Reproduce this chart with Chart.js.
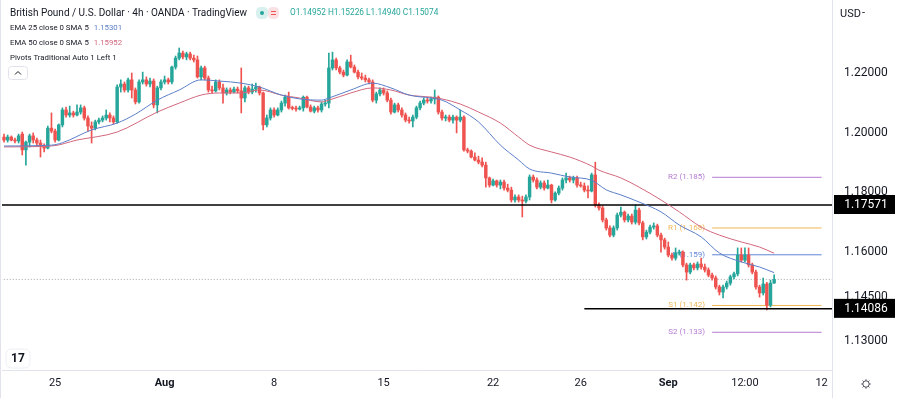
<!DOCTYPE html>
<html>
<head>
<meta charset="utf-8">
<style>
html, body { margin: 0; padding: 0; background: #ffffff; }
#contenedor { width: 900px; height: 398px; position: relative; }
</style>
</head>
<body>
<div id="contenedor"><canvas id="grafico-gbpusd" width="900" height="398"></canvas></div>
<script src="https://cdn.jsdelivr.net/npm/chart.js@4.4.1/dist/chart.umd.min.js"></script>
<script>
// velas de 4h, GBP/USD (OANDA), una por indice
const apertura = [
    1.1985,1.1975,1.1985,1.1975,1.1972,1.1995,1.1942,1.1968,1.1989,1.1975,
    1.1965,1.1955,1.1948,1.2015,1.2005,1.1975,1.2026,1.2076,1.2059,1.2066,
    1.2059,1.2069,1.2083,1.2049,1.2022,1.2015,1.2036,1.2042,1.2049,1.2059,
    1.2049,1.2036,1.2153,1.2163,1.2143,1.2177,1.2143,1.2103,1.2170,1.2177,
    1.2163,1.2173,1.2093,1.2150,1.2170,1.2177,1.2170,1.2220,1.2250,1.2267,
    1.2254,1.2264,1.2250,1.2244,1.2187,1.2217,1.2183,1.2143,1.2140,1.2170,
    1.2150,1.2133,1.2143,1.2136,1.2146,1.2140,1.2116,1.2150,1.2136,1.2146,
    1.2153,1.2133,1.2026,1.2049,1.2076,1.2059,1.2076,1.2099,1.2119,1.2083,
    1.2081,1.2079,1.2083,1.2119,1.2086,1.2072,1.2083,1.2076,1.2096,1.2099,
    1.2217,1.2244,1.2217,1.2203,1.2193,1.2237,1.2220,1.2203,1.2187,1.2183,
    1.2177,1.2170,1.2109,1.2130,1.2143,1.2133,1.2109,1.2069,1.2093,1.2076,
    1.2059,1.2042,1.2039,1.2052,1.2083,1.2099,1.2109,1.2106,1.2113,1.2119,
    1.2069,1.2049,1.2052,1.2042,1.2052,1.2042,1.2052,1.1942,1.1938,1.1918,
    1.1908,1.1901,1.1891,1.1848,1.1824,1.1838,1.1824,1.1834,1.1814,1.1807,
    1.1774,1.1784,1.1774,1.1770,1.1784,1.1851,1.1841,1.1817,1.1831,1.1814,
    1.1824,1.1774,1.1797,1.1814,1.1841,1.1848,1.1841,1.1848,1.1824,1.1821,
    1.1807,1.1804,1.1858,1.1757,1.1747,1.1707,1.1680,1.1656,1.1680,1.1723,
    1.1733,1.1707,1.1720,1.1700,1.1740,1.1697,1.1650,1.1666,1.1683,1.1687,
    1.1656,1.1640,1.1616,1.1589,1.1579,1.1596,1.1599,1.1556,1.1532,1.1556,
    1.1546,1.1559,1.1549,1.1539,1.1522,1.1512,1.1482,1.1465,1.1482,1.1495,
    1.1516,1.1526,1.1589,1.1572,1.1589,1.1556,1.1532,1.1482,1.1462,1.1492,
    1.1421,1.14952
];
const maximo = [
    1.1995,1.1992,1.1989,1.1982,1.1995,1.2002,1.1972,1.1995,1.1999,1.1982,
    1.1975,1.1962,1.2022,1.2066,1.2012,1.2029,1.2083,1.2086,1.2089,1.2072,
    1.2093,1.2093,1.2089,1.2056,1.2036,1.2042,1.2049,1.2056,1.2076,1.2066,
    1.2056,1.2160,1.2177,1.2170,1.2183,1.2200,1.2150,1.2177,1.2203,1.2187,
    1.2183,1.2180,1.2156,1.2177,1.2190,1.2183,1.2223,1.2257,1.2284,1.2274,
    1.2270,1.2270,1.2260,1.2257,1.2223,1.2223,1.2190,1.2156,1.2177,1.2177,
    1.2163,1.2150,1.2150,1.2153,1.2153,1.2217,1.2156,1.2156,1.2163,1.2166,
    1.2156,1.2136,1.2059,1.2083,1.2083,1.2083,1.2106,1.2126,1.2136,1.2089,
    1.2089,1.2089,1.2123,1.2123,1.2093,1.2089,1.2089,1.2103,1.2109,1.2267,
    1.2270,1.2250,1.2223,1.2210,1.2244,1.2260,1.2227,1.2210,1.2200,1.2193,
    1.2183,1.2177,1.2136,1.2150,1.2150,1.2140,1.2116,1.2099,1.2099,1.2083,
    1.2066,1.2052,1.2059,1.2089,1.2106,1.2116,1.2116,1.2119,1.2143,1.2123,
    1.2076,1.2059,1.2059,1.2059,1.2056,1.2076,1.2056,1.1948,1.1942,1.1932,
    1.1921,1.1915,1.1901,1.1851,1.1844,1.1841,1.1841,1.1841,1.1827,1.1817,
    1.1791,1.1791,1.1787,1.1791,1.1858,1.1858,1.1848,1.1838,1.1838,1.1841,
    1.1827,1.1801,1.1821,1.1848,1.1864,1.1854,1.1854,1.1854,1.1834,1.1831,
    1.1821,1.1864,1.1901,1.1764,1.1754,1.1713,1.1687,1.1687,1.1730,1.1750,
    1.1737,1.1727,1.1727,1.1757,1.1747,1.1703,1.1673,1.1690,1.1697,1.1693,
    1.1663,1.1646,1.1633,1.1596,1.1613,1.1606,1.1603,1.1562,1.1562,1.1562,
    1.1566,1.1579,1.1559,1.1546,1.1529,1.1519,1.1488,1.1488,1.1502,1.1522,
    1.1532,1.1613,1.1613,1.1613,1.1613,1.1562,1.1539,1.1488,1.1512,1.1498,
    1.1505,1.15226
];
const minimo = [
    1.1968,1.1968,1.1972,1.1965,1.1965,1.1925,1.1891,1.1952,1.1965,1.1955,
    1.1918,1.1935,1.1945,1.1999,1.1968,1.1972,1.2019,1.2052,1.2052,1.2052,
    1.2056,1.2062,1.2042,1.2005,1.1965,1.2009,1.2029,1.2036,1.2042,1.2036,
    1.2029,1.2032,1.2136,1.2136,1.2136,1.2116,1.2096,1.2099,1.2163,1.2156,
    1.2153,1.2083,1.2066,1.2143,1.2163,1.2163,1.2163,1.2213,1.2244,1.2247,
    1.2244,1.2244,1.2237,1.2183,1.2177,1.2177,1.2136,1.2133,1.2136,1.2143,
    1.2099,1.2126,1.2130,1.2133,1.2133,1.2066,1.2103,1.2130,1.2130,1.2136,
    1.2126,1.2009,1.2019,1.2042,1.2052,1.2056,1.2069,1.2089,1.2079,1.2076,
    1.2072,1.2076,1.2072,1.2083,1.2069,1.2066,1.2069,1.2069,1.2089,1.2083,
    1.2210,1.2210,1.2197,1.2187,1.2190,1.2217,1.2200,1.2180,1.2177,1.2170,
    1.2163,1.2103,1.2099,1.2123,1.2126,1.2103,1.2062,1.2066,1.2069,1.2052,
    1.2036,1.2032,1.2019,1.2046,1.2076,1.2093,1.2099,1.2099,1.2096,1.2062,
    1.2042,1.2039,1.2036,1.2032,1.1999,1.2036,1.1938,1.1932,1.1915,1.1905,
    1.1895,1.1885,1.1817,1.1817,1.1821,1.1817,1.1811,1.1807,1.1801,1.1767,
    1.1767,1.1767,1.1717,1.1764,1.1774,1.1834,1.1811,1.1811,1.1807,1.1811,
    1.1764,1.1770,1.1791,1.1807,1.1831,1.1834,1.1831,1.1817,1.1817,1.1801,
    1.1781,1.1801,1.1750,1.1740,1.1700,1.1673,1.1650,1.1650,1.1673,1.1717,
    1.1700,1.1700,1.1693,1.1693,1.1690,1.1640,1.1643,1.1660,1.1676,1.1650,
    1.1599,1.1609,1.1583,1.1572,1.1572,1.1589,1.1549,1.1505,1.1526,1.1539,
    1.1539,1.1542,1.1532,1.1516,1.1505,1.1475,1.1455,1.1445,1.1475,1.1488,
    1.1509,1.1519,1.1566,1.1566,1.1549,1.1526,1.1475,1.1448,1.1455,1.1405,
    1.1415,1.14940
];
const cierre = [
    1.1975,1.1985,1.1975,1.1972,1.1989,1.1942,1.1968,1.1989,1.1975,1.1965,
    1.1955,1.1948,1.2015,1.2005,1.1975,1.2026,1.2076,1.2059,1.2066,1.2059,
    1.2069,1.2083,1.2049,1.2022,1.2015,1.2036,1.2042,1.2049,1.2059,1.2049,
    1.2036,1.2153,1.2163,1.2143,1.2177,1.2143,1.2103,1.2170,1.2177,1.2163,
    1.2173,1.2093,1.2150,1.2170,1.2177,1.2170,1.2220,1.2250,1.2267,1.2254,
    1.2264,1.2250,1.2244,1.2187,1.2217,1.2183,1.2143,1.2140,1.2170,1.2150,
    1.2133,1.2143,1.2136,1.2146,1.2140,1.2116,1.2150,1.2136,1.2146,1.2153,
    1.2133,1.2026,1.2049,1.2076,1.2059,1.2076,1.2099,1.2119,1.2083,1.2081,
    1.2079,1.2083,1.2119,1.2086,1.2072,1.2083,1.2076,1.2096,1.2099,1.2217,
    1.2244,1.2217,1.2203,1.2193,1.2237,1.2220,1.2203,1.2187,1.2183,1.2177,
    1.2170,1.2109,1.2130,1.2143,1.2133,1.2109,1.2069,1.2093,1.2076,1.2059,
    1.2042,1.2039,1.2052,1.2083,1.2099,1.2109,1.2106,1.2113,1.2119,1.2069,
    1.2049,1.2052,1.2042,1.2052,1.2042,1.2052,1.1942,1.1938,1.1918,1.1908,
    1.1901,1.1891,1.1848,1.1824,1.1838,1.1824,1.1834,1.1814,1.1807,1.1774,
    1.1784,1.1774,1.1770,1.1784,1.1851,1.1841,1.1817,1.1831,1.1814,1.1824,
    1.1774,1.1797,1.1814,1.1841,1.1848,1.1841,1.1848,1.1824,1.1821,1.1807,
    1.1804,1.1858,1.1757,1.1747,1.1707,1.1680,1.1656,1.1680,1.1723,1.1733,
    1.1707,1.1720,1.1700,1.1740,1.1697,1.1650,1.1666,1.1683,1.1687,1.1656,
    1.1640,1.1616,1.1589,1.1579,1.1596,1.1599,1.1556,1.1532,1.1556,1.1546,
    1.1559,1.1549,1.1539,1.1522,1.1512,1.1482,1.1465,1.1482,1.1495,1.1516,
    1.1526,1.1589,1.1572,1.1589,1.1556,1.1532,1.1482,1.1462,1.1492,1.1421,
    1.1495,1.15074
];

// medias (indice de vela -> valor)
const ema25Velas = [0,13,16,24,31,36,42,48,54,59,65,70,76,81,87,89,95,101,106,111,117,120,125,130,136,141,144,150,155,161,165,169,174,180,185,191,196,202,207,211];
const ema25Valores = [1.1955,1.1958,1.1966,1.2009,1.2032,1.2062,1.2109,1.2143,1.2177,1.2173,1.2166,1.2153,1.2126,1.2113,1.2109,1.2116,1.2143,1.2166,1.2150,1.2126,1.2116,1.2109,1.2076,1.2036,1.1958,1.1908,1.1878,1.1864,1.1851,1.1840,1.1808,1.1791,1.1767,1.1734,1.1690,1.1650,1.1596,1.1566,1.1549,1.15301];
const ema50Velas = [0,13,20,31,42,48,54,59,65,70,76,81,87,89,95,101,106,111,117,120,125,130,136,141,144,150,155,161,163,169,174,180,185,191,196,202,207,211];
const ema50Valores = [1.1952,1.1955,1.1975,1.2002,1.2069,1.2099,1.2126,1.2133,1.2133,1.2143,1.2126,1.2116,1.2103,1.2109,1.2133,1.2150,1.2143,1.2126,1.2119,1.2113,1.2096,1.2069,1.2032,1.1985,1.1958,1.1935,1.1918,1.1888,1.1874,1.1848,1.1817,1.1774,1.1734,1.1683,1.1656,1.1633,1.1616,1.15952];

// pivotes semanales
const pivotes = ['R2', 'R1', 'P', 'S1', 'S2'];
const valoresPivotes = [1.185, 1.168, 1.159, 1.142, 1.133];
const coloresPivotes = ['#b57bd1', '#f0b656', '#5f86d8', '#f0b656', '#b57bd1'];
const pivoteDesde = 194;
const pivoteHasta = 224;

// lineas horizontales dibujadas
const niveles = [1.17571, 1.14086];
const nivelesDesde = [-5, 159];

// ejes
const etiquetasX = ['25', 'Aug', '8', '15', '22', '26', 'Sep', '12:00', '12'];
const posicionesX = [14, 44, 74, 104, 134, 158, 182, 203, 224];
const meses = ['Aug', 'Sep'];
const ticksY = [1.22, 1.20, 1.18, 1.16, 1.145, 1.13];

const VERDE = '#26a69a';
const ROJO = '#ef5350';
const FUENTE = 'Roboto, "Liberation Sans", sans-serif';
const ultimo = cierre.length - 1;

const cuerpos = apertura.map((o, i) => ({ x: i, y: [o, cierre[i]] }));
const mechas = minimo.map((l, i) => ({ x: i, y: [l, maximo[i]] }));
const coloresVelas = apertura.map((o, i) => cierre[i] >= o ? VERDE : ROJO);

const datasetsPivotes = pivotes.map((p, i) => ({
    type: 'line',
    data: [{ x: pivoteDesde, y: valoresPivotes[i] }, { x: pivoteHasta, y: valoresPivotes[i] }],
    borderColor: coloresPivotes[i],
    borderWidth: 1,
    pointRadius: 0,
    order: 6
}));

const datasetsNiveles = niveles.map((v, i) => ({
    type: 'line',
    data: [{ x: nivelesDesde[i], y: v }, { x: 240, y: v }],
    borderColor: '#000000',
    borderWidth: 1.5,
    pointRadius: 0,
    clip: 0,
    order: 1
}));

function rectRedondo(ctx, x, y, w, h, r) {
    ctx.beginPath();
    ctx.moveTo(x + r, y);
    ctx.lineTo(x + w - r, y);
    ctx.quadraticCurveTo(x + w, y, x + w, y + r);
    ctx.lineTo(x + w, y + h - r);
    ctx.quadraticCurveTo(x + w, y + h, x + w - r, y + h);
    ctx.lineTo(x + r, y + h);
    ctx.quadraticCurveTo(x, y + h, x, y + h - r);
    ctx.lineTo(x, y + r);
    ctx.quadraticCurveTo(x, y, x + r, y);
    ctx.closePath();
}

const decoracion = {
    id: 'decoracion',
    beforeDatasetsDraw(chart) {
        const { ctx, scales: { x, y } } = chart;
        ctx.save();
        ctx.font = '8px ' + FUENTE;
        ctx.textAlign = 'right';
        ctx.textBaseline = 'middle';
        pivotes.forEach((p, i) => {
            ctx.fillStyle = coloresPivotes[i];
            ctx.fillText(p + ' (' + valoresPivotes[i].toFixed(3) + ')',
                x.getPixelForValue(pivoteDesde) - 7, y.getPixelForValue(valoresPivotes[i]));
        });
        ctx.restore();
    },
    afterDraw(chart) {
        const { ctx, chartArea, scales: { y } } = chart;
        ctx.save();

        // borde izquierdo y separador del eje
        ctx.strokeStyle = '#e0e3eb';
        ctx.lineWidth = 1;
        ctx.beginPath();
        ctx.moveTo(0.5, 0);
        ctx.lineTo(0.5, 398);
        ctx.moveTo(chartArea.right + 0.5, chartArea.bottom);
        ctx.lineTo(chartArea.right + 0.5, 398);
        ctx.stroke();

        // etiquetas negras de los niveles
        ctx.textAlign = 'center';
        ctx.textBaseline = 'middle';
        ctx.font = '12px ' + FUENTE;
        niveles.forEach(v => {
            const yy = y.getPixelForValue(v);
            ctx.fillStyle = '#000000';
            ctx.fillRect(chartArea.right + 2, yy - 10, 61, 19);
            ctx.fillStyle = '#ffffff';
            ctx.fillText(v.toFixed(5), chartArea.right + 34, yy);
        });

        // moneda
        ctx.fillStyle = '#131722';
        ctx.textAlign = 'left';
        ctx.font = '11px ' + FUENTE;
        ctx.fillText('USD', 840, 14);
        ctx.fillText('-', 862, 13);

        // engranaje
        const gx = 866, gy = 384;
        ctx.strokeStyle = '#50535e';
        ctx.lineWidth = 1;
        ctx.beginPath();
        ctx.arc(gx, gy, 3.2, 0, Math.PI * 2);
        ctx.stroke();
        for (let k = 0; k < 8; k++) {
            const a = k * Math.PI / 4;
            ctx.beginPath();
            ctx.moveTo(gx + Math.cos(a) * 3.2, gy + Math.sin(a) * 3.2);
            ctx.lineTo(gx + Math.cos(a) * 4.8, gy + Math.sin(a) * 4.8);
            ctx.stroke();
        }

        // logo
        ctx.fillStyle = '#ffffff';
        ctx.strokeStyle = '#eceef2';
        rectRedondo(ctx, 6, 349, 24, 19, 6);
        ctx.fill();
        ctx.stroke();
        ctx.fillStyle = '#131722';
        ctx.font = 'bold 12px ' + FUENTE;
        ctx.textAlign = 'center';
        ctx.fillText('17', 18, 359);

        // leyenda superior
        ctx.textAlign = 'left';
        ctx.font = '10px ' + FUENTE;
        ctx.fillStyle = '#131722';
        const titulo = 'British Pound / U.S. Dollar · 4h · OANDA · TradingView';
        ctx.fillText(titulo, 10, 13);

        ctx.fillStyle = '#d8f1ee';
        rectRedondo(ctx, 256, 7, 12, 12, 5);
        ctx.fill();
        ctx.fillStyle = VERDE;
        ctx.beginPath();
        ctx.arc(262, 13, 2, 0, Math.PI * 2);
        ctx.fill();
        ctx.fillStyle = '#fbe1e4';
        rectRedondo(ctx, 268, 7, 11, 12, 5);
        ctx.fill();
        ctx.fillStyle = ROJO;
        ctx.fillRect(271, 11, 5, 1);
        ctx.fillRect(271, 14, 5, 1);

        ctx.font = '8.3px ' + FUENTE;
        ctx.fillStyle = VERDE;
        const ohlc = 'O' + apertura[ultimo].toFixed(5) + ' H' + maximo[ultimo].toFixed(5) +
            ' L' + minimo[ultimo].toFixed(5) + ' C' + cierre[ultimo].toFixed(5);
        ctx.fillText(ohlc, 290, 13);

        ctx.font = '7.8px ' + FUENTE;
        const filas = [
            ['EMA 25 close 0 SMA 5', ema25Valores[ema25Valores.length - 1].toFixed(5), '#5b7ec9', 28],
            ['EMA 50 close 0 SMA 5', ema50Valores[ema50Valores.length - 1].toFixed(5), '#d2677d', 43],
            ['Pivots Traditional Auto 1 Left 1', '', '', 58]
        ];
        filas.forEach(f => {
            ctx.fillStyle = '#131722';
            ctx.fillText(f[0], 10, f[3]);
            if (f[1]) {
                const w = ctx.measureText(f[0]).width;
                ctx.fillStyle = f[2];
                ctx.fillText(f[1], 10 + w + 5, f[3]);
            }
        });

        // boton de plegar
        ctx.strokeStyle = '#e0e3eb';
        rectRedondo(ctx, 8.5, 66.5, 19, 13, 3);
        ctx.stroke();
        ctx.strokeStyle = '#131722';
        ctx.beginPath();
        ctx.moveTo(15, 74.5);
        ctx.lineTo(18, 71.5);
        ctx.lineTo(21, 74.5);
        ctx.stroke();

        ctx.restore();
    }
};

new Chart(document.getElementById('grafico-gbpusd'), {
    type: 'bar',
    plugins: [decoracion],
    data: {
        datasets: [
            {
                type: 'line',
                label: 'EMA 25',
                data: ema25Velas.map((v, i) => ({ x: v, y: ema25Valores[i] })),
                borderColor: '#5b7ec9',
                borderWidth: 1,
                pointRadius: 0,
                cubicInterpolationMode: 'monotone',
                order: 0
            },
            {
                type: 'line',
                label: 'EMA 50',
                data: ema50Velas.map((v, i) => ({ x: v, y: ema50Valores[i] })),
                borderColor: '#d2677d',
                borderWidth: 1,
                pointRadius: 0,
                cubicInterpolationMode: 'monotone',
                order: 0
            },
            ...datasetsNiveles,
            {
                label: 'Cuerpo',
                data: cuerpos,
                backgroundColor: coloresVelas,
                barThickness: 2.8,
                minBarLength: 1,
                grouped: false,
                order: 2
            },
            {
                label: 'Mecha',
                data: mechas,
                backgroundColor: coloresVelas,
                barThickness: 1,
                grouped: false,
                order: 3
            },
            ...datasetsPivotes,
            {
                type: 'line',
                label: 'Ultimo',
                data: [{ x: -5, y: cierre[ultimo] }, { x: 240, y: cierre[ultimo] }],
                borderColor: '#a3a6af',
                borderWidth: 1,
                borderDash: [1, 2],
                pointRadius: 0,
                clip: 0,
                order: 7
            }
        ]
    },
    options: {
        responsive: false,
        animation: false,
        devicePixelRatio: 1,
        layout: { padding: { left: 2, top: 0, right: 0, bottom: 0 } },
        plugins: {
            legend: { display: false },
            tooltip: { enabled: false }
        },
        scales: {
            x: {
                type: 'linear',
                offset: false,
                min: -0.55,
                max: 226.85,
                grid: { display: false, drawTicks: false, offset: false },
                border: { display: true, color: '#e0e3eb' },
                afterBuildTicks: s => { s.ticks = posicionesX.map(v => ({ value: v })); },
                afterFit: s => { s.height = 28; s.paddingLeft = 0; s.paddingRight = 0; },
                ticks: {
                    autoSkip: false,
                    maxRotation: 0,
                    padding: 7,
                    color: '#131722',
                    font: ctx => ({
                        family: FUENTE,
                        size: 11,
                        weight: meses.includes(etiquetasX[posicionesX.indexOf(ctx.tick && ctx.tick.value)]) ? 'bold' : 'normal'
                    }),
                    callback: v => etiquetasX[posicionesX.indexOf(v)]
                }
            },
            y: {
                type: 'linear',
                position: 'right',
                min: 1.12034,
                max: 1.24450,
                grid: { display: false, drawTicks: false },
                border: { display: true, color: '#e0e3eb' },
                afterBuildTicks: s => { s.ticks = ticksY.map(v => ({ value: v })); },
                afterFit: s => { s.width = 68; s.paddingTop = 0; s.paddingBottom = 0; },
                ticks: {
                    padding: 12,
                    color: '#131722',
                    font: { family: FUENTE, size: 12 },
                    callback: v => v.toFixed(5)
                }
            }
        }
    }
});
</script>
</body>
</html>
